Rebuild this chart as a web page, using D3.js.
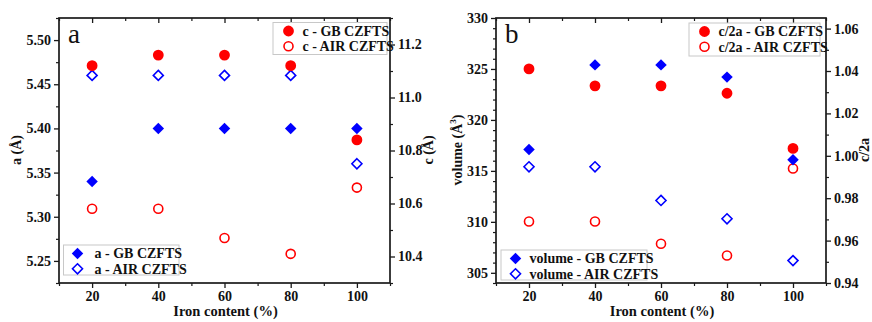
<!DOCTYPE html>
<html><head><meta charset="utf-8">
<script src="https://cdn.jsdelivr.net/npm/d3@7"></script>
<style>
body{margin:0;background:#fff;}
text{font-family:"Liberation Serif","Times New Roman",serif;}
</style></head>
<body><svg id="c" width="872" height="322"></svg>
<script>
// ---- data ----
const iron = [20, 40, 60, 80, 100];
const xTicks = [20, 40, 60, 80, 100];
// panel a
const aGB  = [5.34, 5.40, 5.40, 5.40, 5.40];
const aAIR = [5.46, 5.46, 5.46, 5.46, 5.36];
const cGB  = [11.12, 11.16, 11.16, 11.12, 10.84];
const cAIR = [10.58, 10.58, 10.47, 10.41, 10.66];
const aTicks = [5.25, 5.30, 5.35, 5.40, 5.45, 5.50];
const cTicks = [10.4, 10.6, 10.8, 11.0, 11.2];
// panel b
const volGB  = [317.1, 325.4, 325.4, 324.2, 316.1];
const volAIR = [315.4, 315.4, 312.1, 310.3, 306.2];
const c2aGB  = [1.041, 1.033, 1.033, 1.0295, 1.0035];
const c2aAIR = [0.969, 0.969, 0.9585, 0.953, 0.994];
const volTicks = [305, 310, 315, 320, 325, 330];
const c2aTicks = [0.94, 0.96, 0.98, 1.00, 1.02, 1.04, 1.06];

const svg = d3.select("#c");
const RED = "#ff0000", BLUE = "#0000ff", AX = "#1a1a1a";

function panel(cfg){
  const g = svg.append("g");
  const x = d3.scaleLinear().domain([10,110]).range([cfg.x0, cfg.x1]);
  const yL = d3.scaleLinear().domain(cfg.lDom).range([cfg.y1, cfg.y0]);
  const yR = d3.scaleLinear().domain(cfg.rDom).range([cfg.y1, cfg.y0]);
  const font = s => s.style("font-family","'Liberation Serif',serif").style("font-weight","bold").style("font-size","14px").attr("fill","#111");

  function ticks(axisFn, scale, tr, major, minor, fmt, showLabels, inward){
    const m = g.append("g").attr("transform", tr).call(axisFn(scale).tickValues(minor).tickFormat("").tickSize(inward?-3:3).tickSizeOuter(0));
    m.select(".domain").remove();
    m.selectAll("line").attr("stroke",AX).attr("stroke-width",1.2);
    const M = g.append("g").attr("transform", tr).call(axisFn(scale).tickValues(major).tickFormat(showLabels? fmt : "").tickSize(inward?-5:5).tickSizeOuter(0).tickPadding(3));
    M.select(".domain").remove();
    M.selectAll("line").attr("stroke",AX).attr("stroke-width",1.3);
    M.selectAll("text").call(font);
    return M;
  }
  const xMinor = d3.range(10, 111, 10).filter(v => !xTicks.includes(v));
  ticks(d3.axisBottom, x, `translate(0,${cfg.y1})`, xTicks, xMinor, d3.format("d"), true, false);
  ticks(d3.axisTop, x, `translate(0,${cfg.y0})`, xTicks, xMinor, d3.format("d"), false, true);
  ticks(d3.axisLeft, yL, `translate(${cfg.x0},0)`, cfg.lTicks, cfg.lMinor, cfg.lFmt, true, false);
  ticks(d3.axisRight, yR, `translate(${cfg.x1},0)`, cfg.rTicks, cfg.rMinor, cfg.rFmt, true, false);

  // frame
  g.append("rect").attr("x",cfg.x0).attr("y",cfg.y0).attr("width",cfg.x1-cfg.x0).attr("height",cfg.y1-cfg.y0)
    .attr("fill","none").attr("stroke",AX).attr("stroke-width",1.7);

  // panel letter
  g.append("text").attr("x",cfg.x0+9).attr("y",cfg.y0+25).text(cfg.letter)
    .style("font-size","27px").attr("fill","#111");

  // axis titles
  g.append("text").attr("x",(cfg.x0+cfg.x1)/2+1).attr("y",316).attr("text-anchor","middle")
    .text("Iron content (%)").call(font).style("font-size","14.5px");
  const tl = g.append("text").attr("transform",`translate(${cfg.lTitleX},150) rotate(-90)`).attr("text-anchor","middle").call(font);
  cfg.lTitle(tl);
  g.append("text").attr("transform",`translate(${cfg.rTitleX},150) rotate(-90)`).attr("text-anchor","middle")
    .text(cfg.rTitle).call(font);

  // marks
  const diamond = d3.symbol().type(d3.symbolDiamond2).size(84)();
  const diamondO = d3.symbol().type(d3.symbolDiamond2).size(64)();
  function styleMark(sel, kind){
    if(kind==="fd") sel.attr("d", diamond).attr("fill",BLUE);
    if(kind==="od") sel.attr("d", diamondO).attr("fill","none").attr("stroke",BLUE).attr("stroke-width",1.6);
    if(kind==="fc") sel.attr("d", d3.symbol().type(d3.symbolCircle).size(92)()).attr("fill",RED);
    if(kind==="oc") sel.attr("d", d3.symbol().type(d3.symbolCircle).size(64)()).attr("fill","none").attr("stroke",RED).attr("stroke-width",1.6);
  }
  function drawSeries(vals, yS, kind){
    const sel = g.append("g").selectAll("path").data(vals).join("path")
      .attr("transform",(d,i)=>`translate(${x(iron[i])},${yS(d)})`);
    styleMark(sel, kind);
  }
  drawSeries(cfg.lOpen, yL, "od");
  drawSeries(cfg.rOpen, yR, "oc");
  drawSeries(cfg.lFill, yL, "fd");
  drawSeries(cfg.rFill, yR, "fc");

  // legends
  function legend(box, items){
    const lg = g.append("g");
    lg.append("rect").attr("x",box[0]).attr("y",box[1]).attr("width",box[2]).attr("height",box[3])
      .attr("fill","#fff").attr("stroke","#c8c8c8").attr("stroke-width",1);
    items.forEach((it,i)=>{
      const y = box[1] + 8.5 + i*15.3;
      const p = lg.append("path").attr("transform",`translate(${box[0]+box[4]},${y})`);
      styleMark(p, it.kind);
      lg.append("text").attr("x",box[0]+box[5]).attr("y",y+4.8).text(it.label).call(font).style("font-size","14px");
    });
  }
  legend(cfg.legTR, cfg.itemsTR);
  legend(cfg.legBL, cfg.itemsBL);
}

panel({
  x0:59, x1:390, y0:18, y1:283, letter:"a",
  lDom:[5.225,5.525], rDom:[10.3,11.3],
  lTicks:aTicks, lMinor:[5.225,5.275,5.325,5.375,5.425,5.475,5.525], lFmt:d3.format(".2f"),
  rTicks:cTicks, rMinor:[10.3,10.5,10.7,10.9,11.1,11.3], rFmt:d3.format(".1f"),
  lTitleX:21, lTitle:t=>t.text("a (Å)"), rTitleX:433, rTitle:"c (Å)",
  lFill:aGB, lOpen:aAIR, rFill:cGB, rOpen:cAIR,
  legTR:[273,22.5,114,32,15.5,29.5],
  itemsTR:[{kind:"fc",label:"c - GB CZFTS"},{kind:"oc",label:"c - AIR CZFTS"}],
  legBL:[63.5,245,115.5,30,14,31],
  itemsBL:[{kind:"fd",label:"a - GB CZFTS"},{kind:"od",label:"a - AIR CZFTS"}]
});

panel({
  x0:496, x1:826, y0:18, y1:283, letter:"b",
  lDom:[304,330], rDom:[0.94,1.065],
  lTicks:volTicks, lMinor:d3.range(304,331,1).filter(v=>v%5!==0), lFmt:d3.format("d"),
  rTicks:c2aTicks, rMinor:[0.95,0.97,0.99,1.01,1.03,1.05], rFmt:d3.format(".2f"),
  lTitleX:462, lTitle:t=>{t.append("tspan").text("volume (Å");t.append("tspan").attr("dy",-6).style("font-size","9px").text("3");t.append("tspan").attr("dy",6).text(")");},
  rTitleX:869, rTitle:"c/2a",
  lFill:volGB, lOpen:volAIR, rFill:c2aGB, rOpen:c2aAIR,
  legTR:[689,23,131,33,15.5,29.5],
  itemsTR:[{kind:"fc",label:"c/2a - GB CZFTS"},{kind:"oc",label:"c/2a - AIR CZFTS"}],
  legBL:[501,250,146,30,14.5,28.5],
  itemsBL:[{kind:"fd",label:"volume - GB CZFTS"},{kind:"od",label:"volume - AIR CZFTS"}]
});
</script></body></html>
